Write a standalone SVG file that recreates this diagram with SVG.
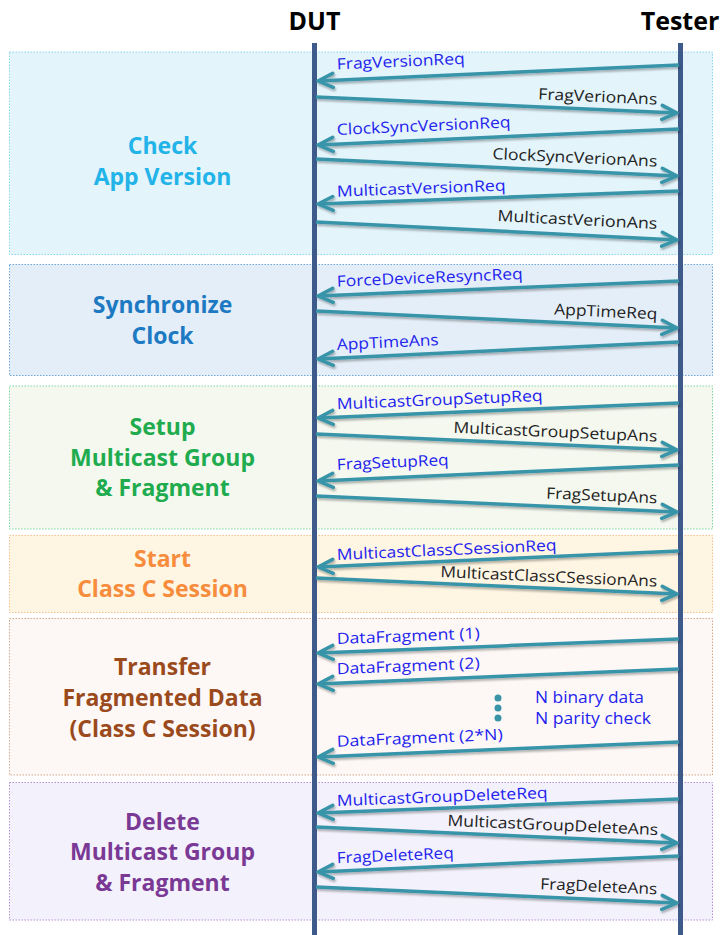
<svg xmlns="http://www.w3.org/2000/svg" width="725" height="935" viewBox="0 0 725 935">
<style>
.box{stroke-width:1;stroke-dasharray:1.5 1.5}
.title{font-family:"Open Sans","Liberation Sans",sans-serif;font-weight:bold;font-size:23px;text-anchor:middle}
.hdr{font-family:"Open Sans","Liberation Sans",sans-serif;font-weight:bold;font-size:25px;text-anchor:middle;fill:#000}
.life{stroke:#3e5a8b;stroke-width:5}
.msg{stroke:#3994a8;stroke-width:3.5;fill:none;marker-end:url(#ah);filter:url(#sh)}
.lbl{font-family:"Open Sans","Liberation Sans",sans-serif;font-size:15.5px}
.req{fill:#2323ee}
.ans{fill:#222;text-anchor:end}
.dot{fill:#3994a8}
</style>
<defs>
<marker id="ah" markerUnits="userSpaceOnUse" viewBox="-20 -10 22 20" refX="0" refY="0" markerWidth="22" markerHeight="20" orient="auto">
<path d="M-15,-7 L0,0 L-15,7" fill="none" stroke="#3994a8" stroke-width="3.5" stroke-linecap="round" stroke-linejoin="round"/>
</marker>
<filter id="sh" x="-5%" y="-100%" width="110%" height="300%">
<feDropShadow dx="1" dy="2" stdDeviation="1.2" flood-color="#000" flood-opacity="0.3"/>
</filter>
</defs>
<rect width="725" height="935" fill="#fff"/>

<g id="sec-check">
<rect class="box" x="9.5" y="52" width="703" height="202.5" fill="#e3f4fb" stroke="#86d6f2"/>
<text class="title" x="162.5" y="154" fill="#22b3e8">Check</text>
<text class="title" x="162.5" y="185" fill="#22b3e8">App Version</text>
</g>
<g id="sec-sync">
<rect class="box" x="9.5" y="264.5" width="703" height="111" fill="#e4eef8" stroke="#6ea6d8"/>
<text class="title" x="162.5" y="313" fill="#1c79c2">Synchronize</text>
<text class="title" x="162.5" y="344" fill="#1c79c2">Clock</text>
</g>
<g id="sec-setup">
<rect class="box" x="9.5" y="386" width="703" height="143" fill="#f4f8ef" stroke="#7fd6a0"/>
<text class="title" x="162.5" y="435" fill="#20ac4e">Setup</text>
<text class="title" x="162.5" y="465.5" fill="#20ac4e">Multicast Group</text>
<text class="title" x="162.5" y="496" fill="#20ac4e">&amp; Fragment</text>
</g>
<g id="sec-start">
<rect class="box" x="9.5" y="535.5" width="703" height="77" fill="#fef5e2" stroke="#f4c08c"/>
<text class="title" x="162.5" y="566.5" fill="#f68c3c">Start</text>
<text class="title" x="162.5" y="597" fill="#f68c3c">Class C Session</text>
</g>
<g id="sec-transfer">
<rect class="box" x="9.5" y="618.5" width="703" height="156.5" fill="#fdf8f5" stroke="#d6a88a"/>
<text class="title" x="162.5" y="675" fill="#9a4a1c">Transfer</text>
<text class="title" x="162.5" y="706" fill="#9a4a1c">Fragmented Data</text>
<text class="title" x="162.5" y="737" fill="#9a4a1c">(Class C Session)</text>
</g>
<g id="sec-delete">
<rect class="box" x="9.5" y="782.5" width="703" height="137.5" fill="#f3f2fc" stroke="#b690d6"/>
<text class="title" x="162.5" y="830" fill="#7a3995">Delete</text>
<text class="title" x="162.5" y="860" fill="#7a3995">Multicast Group</text>
<text class="title" x="162.5" y="891" fill="#7a3995">&amp; Fragment</text>
</g>

<g id="dut">
<text class="hdr" x="314.5" y="30">DUT</text>
<line class="life" x1="314.5" y1="43" x2="314.5" y2="935"/>
</g>
<g id="tester">
<text class="hdr" x="680" y="30">Tester</text>
<line class="life" x1="680.5" y1="43" x2="680.5" y2="935"/>
</g>

<g id="connectors">
<line class="msg" x1="679" y1="65" x2="318" y2="81"/>
<line class="msg" x1="316" y1="97" x2="677" y2="113"/>
<line class="msg" x1="679" y1="129" x2="318" y2="145"/>
<line class="msg" x1="316" y1="159" x2="677" y2="176"/>
<line class="msg" x1="679" y1="191" x2="318" y2="204"/>
<line class="msg" x1="316" y1="222" x2="677" y2="240"/>
<line class="msg" x1="679" y1="281" x2="318" y2="296"/>
<line class="msg" x1="316" y1="311" x2="677" y2="328"/>
<line class="msg" x1="679" y1="342" x2="318" y2="359"/>
<line class="msg" x1="679" y1="403" x2="318" y2="418"/>
<line class="msg" x1="316" y1="434" x2="677" y2="450"/>
<line class="msg" x1="679" y1="465" x2="318" y2="481"/>
<line class="msg" x1="316" y1="496" x2="677" y2="512"/>
<line class="msg" x1="679" y1="551" x2="318" y2="567"/>
<line class="msg" x1="316" y1="578" x2="677" y2="594"/>
<line class="msg" x1="679" y1="639" x2="318" y2="653"/>
<line class="msg" x1="679" y1="669" x2="318" y2="684"/>
<line class="msg" x1="679" y1="742" x2="318" y2="757"/>
<line class="msg" x1="679" y1="799" x2="318" y2="813"/>
<line class="msg" x1="316" y1="827" x2="677" y2="843"/>
<line class="msg" x1="679" y1="856" x2="318" y2="872"/>
<line class="msg" x1="316" y1="887" x2="677" y2="903"/>

<text class="lbl req" x="337" y="69.5" textLength="128" lengthAdjust="spacingAndGlyphs" transform="rotate(-2.53 337 69.5)">FragVersionReq</text>
<text class="lbl ans" x="657" y="104.5" textLength="119" lengthAdjust="spacingAndGlyphs" transform="rotate(2.53 657 104.5)">FragVerionAns</text>
<text class="lbl req" x="337" y="135" textLength="174" lengthAdjust="spacingAndGlyphs" transform="rotate(-2.53 337 135)">ClockSyncVersionReq</text>
<text class="lbl ans" x="657" y="166.7" textLength="165" lengthAdjust="spacingAndGlyphs" transform="rotate(2.69 657 166.7)">ClockSyncVerionAns</text>
<text class="lbl req" x="337" y="196.7" textLength="169" lengthAdjust="spacingAndGlyphs" transform="rotate(-2.06 337 196.7)">MulticastVersionReq</text>
<text class="lbl ans" x="657" y="229" textLength="160" lengthAdjust="spacingAndGlyphs" transform="rotate(2.85 657 229)">MulticastVerionAns</text>
<text class="lbl req" x="337" y="286.7" textLength="186" lengthAdjust="spacingAndGlyphs" transform="rotate(-2.37 337 286.7)">ForceDeviceResyncReq</text>
<text class="lbl ans" x="657" y="319.3" textLength="103" lengthAdjust="spacingAndGlyphs" transform="rotate(2.69 657 319.3)">AppTimeReq</text>
<text class="lbl req" x="337" y="350" textLength="102" lengthAdjust="spacingAndGlyphs" transform="rotate(-2.69 337 350)">AppTimeAns</text>
<text class="lbl req" x="337" y="409.3" textLength="206" lengthAdjust="spacingAndGlyphs" transform="rotate(-2.37 337 409.3)">MulticastGroupSetupReq</text>
<text class="lbl ans" x="657" y="441.7" textLength="204" lengthAdjust="spacingAndGlyphs" transform="rotate(2.53 657 441.7)">MulticastGroupSetupAns</text>
<text class="lbl req" x="337" y="470" textLength="112" lengthAdjust="spacingAndGlyphs" transform="rotate(-2.53 337 470)">FragSetupReq</text>
<text class="lbl ans" x="657" y="503.3" textLength="111" lengthAdjust="spacingAndGlyphs" transform="rotate(2.53 657 503.3)">FragSetupAns</text>
<text class="lbl req" x="337" y="560" textLength="220" lengthAdjust="spacingAndGlyphs" transform="rotate(-2.53 337 560)">MulticastClassCSessionReq</text>
<text class="lbl ans" x="657" y="586.7" textLength="217" lengthAdjust="spacingAndGlyphs" transform="rotate(2.53 657 586.7)">MulticastClassCSessionAns</text>
<text class="lbl req" x="337" y="644" textLength="143" lengthAdjust="spacingAndGlyphs" transform="rotate(-2.21 337 644)">DataFragment (1)</text>
<text class="lbl req" x="337" y="674.3" textLength="143" lengthAdjust="spacingAndGlyphs" transform="rotate(-2.37 337 674.3)">DataFragment (2)</text>
<text class="lbl req" x="337" y="746.7" textLength="166" lengthAdjust="spacingAndGlyphs" transform="rotate(-2.37 337 746.7)">DataFragment (2*N)</text>
<text class="lbl req" x="337" y="806" textLength="211" lengthAdjust="spacingAndGlyphs" transform="rotate(-2.21 337 806)">MulticastGroupDeleteReq</text>
<text class="lbl ans" x="658" y="835" textLength="211" lengthAdjust="spacingAndGlyphs" transform="rotate(2.53 658 835)">MulticastGroupDeleteAns</text>
<text class="lbl req" x="337" y="863.3" textLength="117" lengthAdjust="spacingAndGlyphs" transform="rotate(-2.53 337 863.3)">FragDeleteReq</text>
<text class="lbl ans" x="657" y="894.3" textLength="117" lengthAdjust="spacingAndGlyphs" transform="rotate(2.53 657 894.3)">FragDeleteAns</text>
</g>

<g id="note">
<circle class="dot" cx="498" cy="698" r="3.5"/>
<circle class="dot" cx="498" cy="708" r="3.5"/>
<circle class="dot" cx="498" cy="718" r="3.5"/>
<text class="lbl req" x="535" y="703.3" textLength="109" lengthAdjust="spacingAndGlyphs">N binary data</text>
<text class="lbl req" x="535" y="724.3" textLength="116" lengthAdjust="spacingAndGlyphs">N parity check</text>
</g>
</svg>
